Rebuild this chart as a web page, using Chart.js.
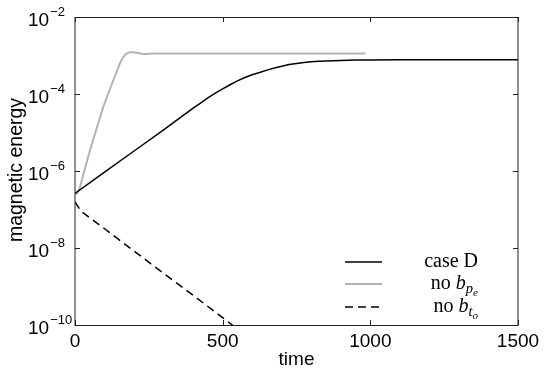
<!DOCTYPE html>
<html>
<head>
<meta charset="utf-8">
<script src="https://cdn.jsdelivr.net/npm/chart.js@4.4.1/dist/chart.umd.min.js"></script>
<style>
  html, body { margin: 0; padding: 0; background: #fff; }
</style>
</head>
<body>
<canvas id="myChart" width="545" height="371"></canvas>
<script>
// values (energy on a log axis)
const caseDTime   = [0, 100, 200, 300, 400, 425, 450, 475, 500, 525, 550, 575, 600, 625, 650, 675, 700, 725, 750, 775, 800, 825, 850, 900, 950, 1000, 1100, 1500];
const caseDEnergy = [2.63e-7, 9.3e-7, 3.31e-6, 1.17e-5, 4.27e-5, 5.8e-5, 7.9e-5, 1.05e-4, 1.365e-4, 1.74e-4, 2.19e-4, 2.69e-4, 3.16e-4, 3.63e-4, 4.17e-4, 4.71e-4, 5.25e-4, 5.82e-4, 6.24e-4, 6.58e-4, 6.84e-4, 7.05e-4, 7.23e-4, 7.41e-4, 7.59e-4, 7.67e-4, 7.76e-4, 7.8e-4];

const noBpeTime   = [0, 8, 17, 51, 96, 130, 152, 162, 170, 178, 188, 198, 210, 225, 243, 265, 290, 984];
const noBpeEnergy = [2.5e-7, 2.63e-7, 3.89e-7, 3.51e-6, 4.68e-5, 2.31e-4, 6.27e-4, 8.71e-4, 1.047e-3, 1.161e-3, 1.216e-3, 1.216e-3, 1.175e-3, 1.117e-3, 1.096e-3, 1.122e-3, 1.135e-3, 1.135e-3];

const noBtoTime   = [0, 20, 100, 200, 300, 400, 500, 550];
const noBtoEnergy = [1.58e-7, 9.1e-8, 3.16e-8, 8.3e-9, 2.2e-9, 5.9e-10, 1.55e-10, 7.9e-11];

const seriesNames = ['case D', 'no b_{p_e}', 'no b_{t_o}'];

const xTicks = [0, 500, 1000, 1500];
const yTicks = [1e-10, 1e-8, 1e-6, 1e-4, 1e-2];
const yTickExponents = ['\u221210', '\u22128', '\u22126', '\u22124', '\u22122'];
const xTitle = 'time';
const yTitle = 'magnetic energy';

const toPoints = (xs, ys) => xs.map((x, i) => ({ x: x, y: ys[i] }));

const sans = '"Liberation Sans", Arial, Helvetica, sans-serif';
const serif = '"Liberation Serif", "Times New Roman", serif';

// draws "no b_{p_e}" style labels, right aligned
const drawLegendText = (ctx, name, right, base) => {
  const m = name.match(/^(.*\s)(\w)_\{(\w)_(\w)\}$/);
  if (!m) {
    ctx.font = '20px ' + serif;
    ctx.textAlign = 'right';
    ctx.fillText(name, right, base);
    return;
  }
  ctx.textAlign = 'left';
  const parts = [
    { t: m[1], f: '20px ' + serif, dy: 0 },
    { t: m[2], f: 'italic 20px ' + serif, dy: 0 },
    { t: m[3], f: 'italic 14.5px ' + serif, dy: 3.5 },
    { t: m[4], f: 'italic 11px ' + serif, dy: 6.5 }
  ];
  let total = 0;
  parts.forEach(p => { ctx.font = p.f; p.w = ctx.measureText(p.t).width; total += p.w });
  let x = right - total;
  parts.forEach(p => {
    ctx.font = p.f;
    ctx.fillText(p.t, x, base + p.dy);
    x += p.w;
  });
};

const framePlugin = {
  id: 'frame',
  afterDraw: chart => {
    const ctx = chart.ctx;
    const a = chart.chartArea;
    const xs = chart.scales.x;
    const ys = chart.scales.y;
    ctx.save();

    // box
    ctx.strokeStyle = '#222';
    ctx.lineWidth = 1;
    ctx.beginPath();
    ctx.moveTo(a.left, a.top + 0.5); ctx.lineTo(a.right, a.top + 0.5);
    ctx.moveTo(a.left, a.bottom + 0.5); ctx.lineTo(a.right, a.bottom + 0.5);
    ctx.moveTo(a.left, a.top); ctx.lineTo(a.left, a.bottom + 1);
    ctx.moveTo(a.right, a.top); ctx.lineTo(a.right, a.bottom + 1);
    ctx.stroke();

    // inward ticks
    ctx.beginPath();
    yTicks.forEach(v => {
      const y = Math.round(ys.getPixelForValue(v)) + 0.5;
      ctx.moveTo(a.left, y); ctx.lineTo(a.left + 5, y);
      ctx.moveTo(a.right, y); ctx.lineTo(a.right - 5, y);
    });
    xTicks.forEach(v => {
      const x = Math.round(xs.getPixelForValue(v)) + 0.5;
      ctx.moveTo(x, a.bottom); ctx.lineTo(x, a.bottom - 5);
      ctx.moveTo(x, a.top); ctx.lineTo(x, a.top + 5);
    });
    ctx.stroke();

    // tick labels
    ctx.fillStyle = '#000';
    ctx.textBaseline = 'alphabetic';
    yTicks.forEach((v, i) => {
      const y = ys.getPixelForValue(v);
      ctx.font = '19px ' + sans;
      ctx.textAlign = 'left';
      ctx.fillText('10', 28, y + 8.5);
      const w = ctx.measureText('10').width;
      ctx.font = '13px ' + sans;
      ctx.fillText(yTickExponents[i], 28 + w + 1, y - 1.5);
    });
    ctx.font = '19px ' + sans;
    ctx.textAlign = 'center';
    xTicks.forEach(v => {
      ctx.fillText(String(v), xs.getPixelForValue(v), 347);
    });

    // axis titles
    ctx.fillText(xTitle, (a.left + a.right) / 2, 365);
    ctx.save();
    ctx.translate(21.5, 170);
    ctx.rotate(-Math.PI / 2);
    ctx.font = '19.5px ' + sans;
    ctx.fillText(yTitle, 0, 0);
    ctx.restore();

    // legend
    const rows = [262, 284, 307];
    chart.data.datasets.forEach((ds, i) => {
      const y = rows[i];
      ctx.save();
      ctx.strokeStyle = ds.borderColor;
      ctx.lineWidth = ds.borderWidth;
      ctx.setLineDash(ds.borderDash || []);
      ctx.beginPath();
      ctx.moveTo(345, y); ctx.lineTo(382, y);
      ctx.stroke();
      ctx.restore();
      ctx.fillStyle = '#000';
      drawLegendText(ctx, seriesNames[i], 478, y + 5);
    });

    ctx.restore();
  }
};

var ctx = document.getElementById('myChart').getContext('2d');
var chart = new Chart(ctx, {
  type: 'line',
  data: {
    datasets: [
      {
        label: seriesNames[0],
        data: toPoints(caseDTime, caseDEnergy),
        borderColor: '#000',
        borderWidth: 1.5
      },
      {
        label: seriesNames[1],
        data: toPoints(noBpeTime, noBpeEnergy),
        borderColor: '#b3b3b3',
        borderWidth: 2
      },
      {
        label: seriesNames[2],
        data: toPoints(noBtoTime, noBtoEnergy),
        borderColor: '#000',
        borderWidth: 1.5,
        borderDash: [8, 5]
      }
    ]
  },
  options: {
    responsive: false,
    animation: false,
    devicePixelRatio: 1,
    layout: { padding: { left: 75, top: 17, right: 27, bottom: 46 } },
    elements: { point: { radius: 0 }, line: { tension: 0 } },
    plugins: { legend: { display: false }, tooltip: { enabled: false } },
    scales: {
      x: { type: 'linear', min: 0, max: 1500, display: false },
      y: { type: 'logarithmic', min: 1e-10, max: 1e-2, display: false }
    }
  },
  plugins: [framePlugin]
});
</script>
</body>
</html>
